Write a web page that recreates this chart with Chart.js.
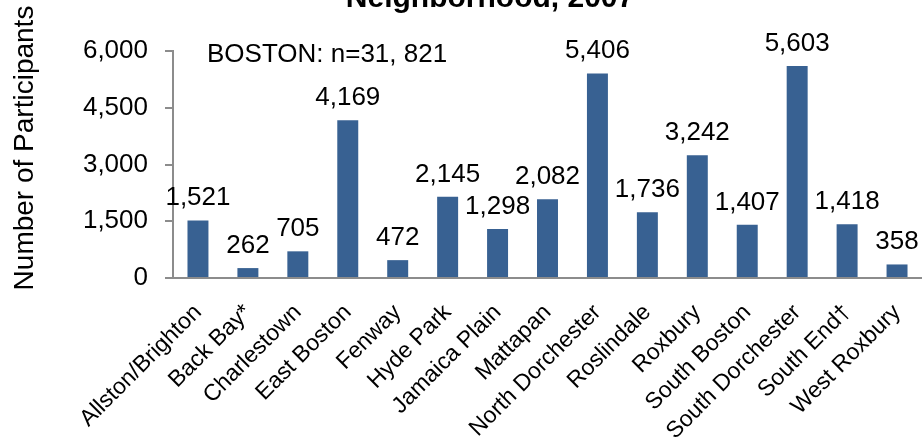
<!DOCTYPE html>
<html lang="en">
<head>
  <meta charset="UTF-8">
  <title>Participants by Neighborhood</title>
  <style>
    html, body { margin: 0; padding: 0; background: #fff; }
    .grafico { width: 922px; height: 447px; }
  </style>
</head>
<body>
  <div class="grafico">
    <canvas id="myCanvas" width="922" height="447"></canvas>
  </div>

<script src="https://cdn.jsdelivr.net/npm/chart.js"></script>
<script>
  // dados
  const bairros = ['Allston/Brighton', 'Back Bay*', 'Charlestown', 'East Boston', 'Fenway', 'Hyde Park',
    'Jamaica Plain', 'Mattapan', 'North Dorchester', 'Roslindale', 'Roxbury', 'South Boston',
    'South Dorchester', 'South End\u2020', 'West Roxbury'];
  const participantes = [1521, 262, 705, 4169, 472, 2145, 1298, 2082, 5406, 1736, 3242, 1407, 5603, 1418, 358];
  const yTicks = [0, 1500, 3000, 4500, 6000];
  const tituloVisivel = 'Neighborhood, 2007';
  const tituloEixoY = 'Number of Participants';
  const notaTotal = 'BOSTON: n=31, 821';

  const corBarra = '#386192';
  const corEixo = '#8c8c8c';
  const fonte = '"Liberation Sans", Arial, sans-serif';

  const rotulos = {
    id: 'rotulos',
    afterDatasetsDraw(chart) {
      const ctx = chart.ctx;
      const meta = chart.getDatasetMeta(0);
      ctx.save();
      ctx.fillStyle = '#000';
      ctx.font = '26px ' + fonte;
      ctx.textAlign = 'center';
      ctx.textBaseline = 'alphabetic';
      meta.data.forEach((bar, i) => {
        ctx.fillText(participantes[i].toLocaleString('en-US'), bar.x, bar.y - 15);
      });
      // nota do total
      ctx.textAlign = 'left';
      ctx.fillText(notaTotal, chart.chartArea.left + 34, 62);
      // titulo cortado no topo
      ctx.font = 'bold 30px ' + fonte;
      ctx.textAlign = 'center';
      ctx.fillText(tituloVisivel, 490, 7);
      // titulo do eixo y
      ctx.font = '28px ' + fonte;
      ctx.translate(25, 148);
      ctx.rotate(-Math.PI / 2);
      ctx.textBaseline = 'middle';
      ctx.fillText(tituloEixoY, 0, 0);
      ctx.restore();
    }
  };

  const ctx = document.getElementById('myCanvas').getContext('2d');
  const chart = new Chart(ctx, {
    type: 'bar',
    data: {
      labels: bairros,
      datasets: [{
        data: participantes,
        backgroundColor: corBarra,
        borderWidth: 0,
        barPercentage: 0.84,
        categoryPercentage: 0.5
      }]
    },
    options: {
      responsive: false,
      animation: false,
      layout: { padding: { top: 51, right: 0, left: 0, bottom: 0 } },
      plugins: {
        legend: { display: false },
        tooltip: { enabled: false }
      },
      scales: {
        x: {
          grid: { display: false, drawTicks: false },
          border: { color: corEixo, width: 2 },
          ticks: {
            color: '#000',
            font: { family: fonte, size: 23 },
            maxRotation: 45,
            minRotation: 45,
            autoSkip: false,
            padding: 21
          },
          afterFit(scale) {
            scale.height = 169;
            scale.paddingLeft = 0;
            scale.paddingRight = 0;
          }
        },
        y: {
          min: 0,
          max: 6000,
          afterBuildTicks(scale) { scale.ticks = yTicks.map(v => ({ value: v })); },
          grid: { drawOnChartArea: false, color: corEixo, tickLength: 8, lineWidth: 2 },
          border: { color: corEixo, width: 2 },
          ticks: {
            color: '#000',
            font: { family: fonte, size: 26 },
            padding: 17,
            callback: v => v.toLocaleString('en-US')
          },
          afterFit(scale) {
            scale.width = 173;
            scale.paddingTop = 0;
            scale.paddingBottom = 0;
          }
        }
      }
    },
    plugins: [rotulos]
  });
</script>
</body>
</html>
